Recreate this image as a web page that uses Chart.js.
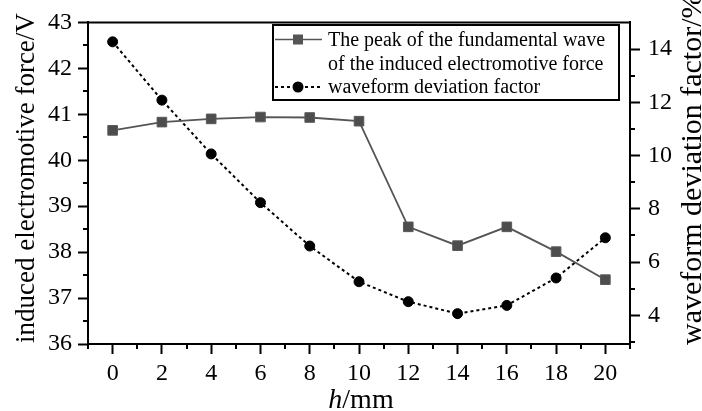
<!DOCTYPE html>
<html><head><meta charset="utf-8">
<script src="https://cdn.jsdelivr.net/npm/chart.js@4.4.1/dist/chart.umd.min.js"></script>
<style>html,body{margin:0;padding:0;background:#fff;} #wrap{width:702px;height:411px;}</style>
</head><body><div id="wrap"><canvas id="c" width="702" height="411"></canvas></div>
<script>
const hValues = [0, 2, 4, 6, 8, 10, 12, 14, 16, 18, 20];
const emfPeak = [40.65, 40.83, 40.90, 40.94, 40.93, 40.85, 38.55, 38.14, 38.55, 38.01, 37.40];
const deviationFactor = [14.27, 12.08, 10.06, 8.23, 6.60, 5.26, 4.51, 4.06, 4.37, 5.40, 6.91];
const xTickValues = [0, 2, 4, 6, 8, 10, 12, 14, 16, 18, 20];
const xMinorTicks = [-1, 1, 3, 5, 7, 9, 11, 13, 15, 17, 19, 21];
const leftTickValues = [36, 37, 38, 39, 40, 41, 42, 43];
const leftMinorTicks = [36.5, 37.5, 38.5, 39.5, 40.5, 41.5, 42.5];
const rightTickValues = [4, 6, 8, 10, 12, 14];
const rightMinorTicks = [3, 5, 7, 9, 11, 13];
const emfLegendLines = ['The peak of the fundamental wave', 'of the induced electromotive force'];
const devLegendLine = 'waveform deviation factor';
const leftTitle = 'induced electromotive force/V';
const rightTitle = 'waveform deviation factor/%';
const xTitleItalic = 'h';
const xTitleRest = '/mm';

const SERIF = '"Liberation Serif", "Times New Roman", Times, serif';
const GRAY = '#555555';

const framePlugin = {
  id: 'frame',
  afterDraw(chart) {
    const ctx = chart.ctx;
    const a = chart.chartArea;
    const sx = chart.scales.x, sy = chart.scales.y, sy1 = chart.scales.y1;
    ctx.save();
    ctx.strokeStyle = '#000';
    ctx.lineWidth = 2;
    // top frame line
    ctx.beginPath();
    ctx.moveTo(a.left - 1, a.top);
    ctx.lineTo(a.right + 1, a.top);
    ctx.stroke();
    // minor ticks
    ctx.beginPath();
    xMinorTicks.forEach(v => {
      const p = Math.round(sx.getPixelForValue(v));
      ctx.moveTo(p, a.bottom); ctx.lineTo(p, a.bottom + 5);
    });
    leftMinorTicks.forEach(v => {
      const p = Math.round(sy.getPixelForValue(v));
      ctx.moveTo(a.left, p); ctx.lineTo(a.left - 5, p);
    });
    rightMinorTicks.forEach(v => {
      const p = Math.round(sy1.getPixelForValue(v));
      ctx.moveTo(a.right, p); ctx.lineTo(a.right + 5, p);
    });
    ctx.stroke();

    // axis titles
    ctx.fillStyle = '#000';
    ctx.textBaseline = 'alphabetic';
    ctx.font = '27px ' + SERIF;
    ctx.save();
    ctx.translate(34, 343);
    ctx.rotate(-Math.PI / 2);
    ctx.textAlign = 'left';
    ctx.fillText(leftTitle, 0, 0);
    ctx.restore();

    ctx.font = '30px ' + SERIF;
    ctx.save();
    ctx.translate(701, 345);
    ctx.rotate(-Math.PI / 2);
    ctx.textAlign = 'left';
    ctx.fillText(rightTitle, 0, 0);
    ctx.restore();

    // x title
    const cx = (a.left + a.right) / 2 + 2;
    ctx.font = 'italic 28px ' + SERIF;
    const w1 = ctx.measureText(xTitleItalic).width;
    ctx.font = '28px ' + SERIF;
    const w2 = ctx.measureText(xTitleRest).width;
    const x0 = cx - (w1 + w2) / 2;
    ctx.textAlign = 'left';
    ctx.font = 'italic 28px ' + SERIF;
    ctx.fillText(xTitleItalic, x0, 408);
    ctx.font = '28px ' + SERIF;
    ctx.fillText(xTitleRest, x0 + w1, 408);

    // legend
    const L = 273, T = 25, R = 619, B = 100;
    ctx.lineWidth = 2;
    ctx.strokeRect(L, T, R - L, B - T);
    // row 1 marker
    ctx.strokeStyle = GRAY;
    ctx.lineWidth = 1.5;
    ctx.beginPath(); ctx.moveTo(275, 39.5); ctx.lineTo(322, 39.5); ctx.stroke();
    ctx.fillStyle = GRAY;
    ctx.fillRect(293, 34.5, 10, 10);
    // row 3 marker
    ctx.strokeStyle = '#000';
    ctx.lineWidth = 2;
    ctx.setLineDash([3, 3]);
    ctx.beginPath(); ctx.moveTo(275, 87); ctx.lineTo(322, 87); ctx.stroke();
    ctx.setLineDash([]);
    ctx.fillStyle = '#000';
    ctx.beginPath(); ctx.arc(298, 87, 5.5, 0, Math.PI * 2); ctx.fill();
    // legend text
    ctx.font = '20px ' + SERIF;
    ctx.textAlign = 'left';
    ctx.fillText(emfLegendLines[0], 328, 46);
    ctx.fillText(emfLegendLines[1], 328, 69.5);
    ctx.fillText(devLegendLine, 328, 93);
    ctx.restore();
  }
};

const tickFont = { family: SERIF, size: 24 };

new Chart(document.getElementById('c'), {
  type: 'line',
  data: {
    datasets: [
      {
        label: emfLegendLines.join(' '),
        data: hValues.map((h, i) => ({ x: h, y: emfPeak[i] })),
        yAxisID: 'y',
        borderColor: GRAY,
        backgroundColor: GRAY,
        borderWidth: 1.8,
        pointStyle: 'rect',
        pointRadius: 6.8,
        pointBorderWidth: 1,
        pointBorderColor: '#5a5a5a',
        pointBackgroundColor: '#4d4d4d',
        tension: 0
      },
      {
        label: devLegendLine,
        data: hValues.map((h, i) => ({ x: h, y: deviationFactor[i] })),
        yAxisID: 'y1',
        borderColor: '#000',
        backgroundColor: '#000',
        borderWidth: 2,
        borderDash: [3, 3],
        pointStyle: 'circle',
        pointRadius: 5,
        pointBorderWidth: 1,
        pointBackgroundColor: '#000',
        pointBorderColor: '#000',
        tension: 0
      }
    ]
  },
  options: {
    responsive: false,
    animation: false,
    devicePixelRatio: 1,
    layout: { padding: { top: 19, left: 0, right: 0, bottom: 0 } },
    plugins: { legend: { display: false }, tooltip: { enabled: false } },
    scales: {
      x: {
        type: 'linear',
        position: 'bottom',
        min: -1, max: 21,
        afterBuildTicks: s => { s.ticks = xTickValues.map(v => ({ value: v })); },
        afterFit: s => { s.height = 67; },
        grid: { drawOnChartArea: false, drawTicks: true, tickLength: 10, tickColor: '#000', tickWidth: 2, color: '#000' },
        border: { display: true, color: '#000', width: 2 },
        ticks: { font: tickFont, color: '#000', padding: 5, maxRotation: 0, autoSkip: false }
      },
      y: {
        type: 'linear',
        position: 'left',
        min: 36, max: 43,
        afterBuildTicks: s => { s.ticks = leftTickValues.map(v => ({ value: v })); },
        afterFit: s => { s.width = 88; },
        grid: { drawOnChartArea: false, drawTicks: true, tickLength: 10, tickColor: '#000', tickWidth: 2, color: '#000' },
        border: { display: true, color: '#000', width: 2 },
        ticks: { font: tickFont, color: '#000', padding: 6 }
      },
      y1: {
        type: 'linear',
        position: 'right',
        min: 2.92, max: 15,
        afterBuildTicks: s => { s.ticks = rightTickValues.map(v => ({ value: v })); },
        afterFit: s => { s.width = 72; },
        grid: { drawOnChartArea: false, drawTicks: true, tickLength: 10, tickColor: '#000', tickWidth: 2, color: '#000' },
        border: { display: true, color: '#000', width: 2 },
        ticks: { font: tickFont, color: '#000', padding: 8 }
      }
    }
  },
  plugins: [framePlugin]
});
</script>
</body></html>
